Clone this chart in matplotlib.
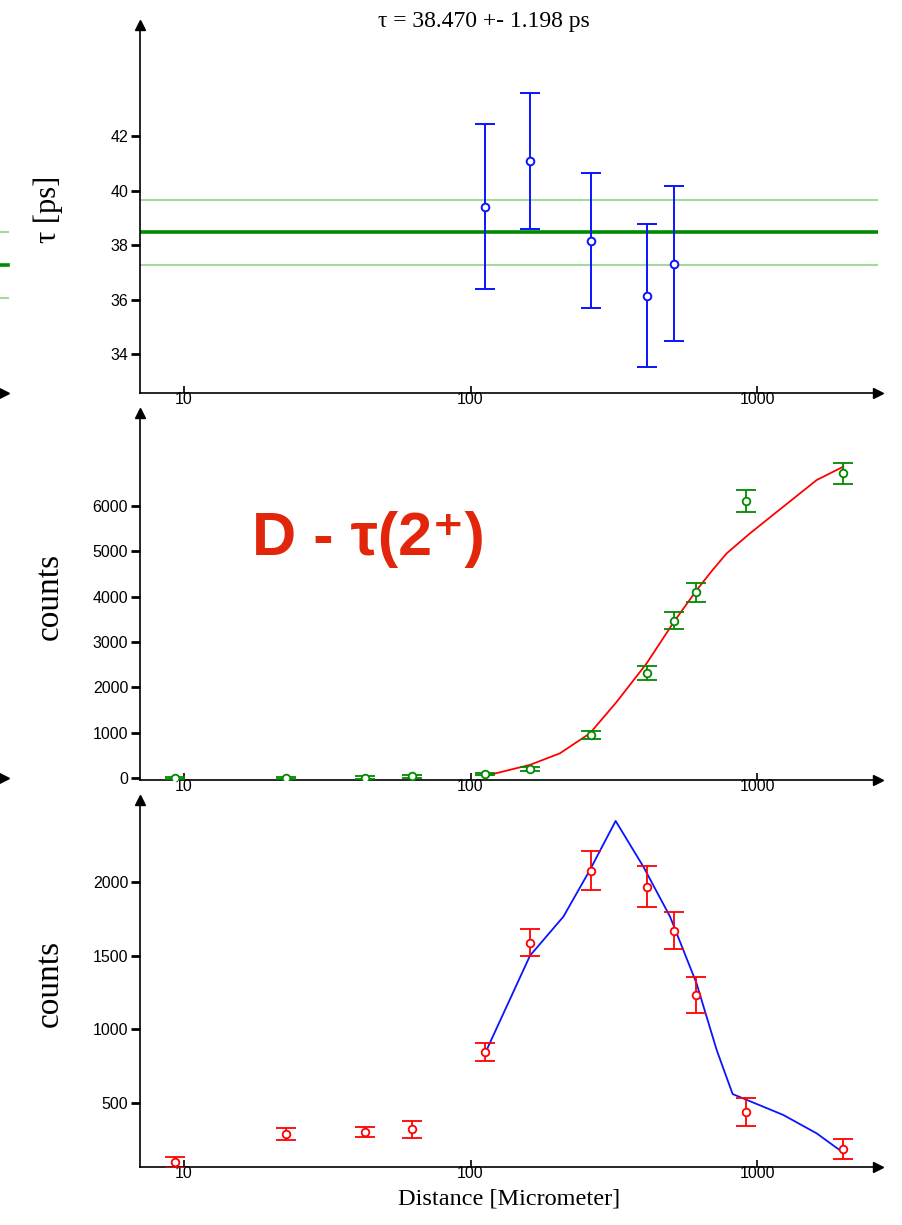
import matplotlib
matplotlib.use("Agg")
import matplotlib.pyplot as plt
from matplotlib.lines import Line2D

# distances (micrometer) of the measured points
distance = [9.3, 22.7, 42.9, 62.5, 112.4, 161.3, 263.4, 413, 513, 612, 915, 1995]

# lifetime per distance (top panel)
tau_dist = [112.4, 161.3, 263.4, 413, 513]
tau_val = [39.42, 41.08, 38.17, 36.14, 37.32]
tau_err = [3.02, 2.50, 2.49, 2.62, 2.86]
tau_mean = 38.470
tau_sigma = 1.198

# shifted component counts (middle panel)
shifted = [5, 5, 10, 40, 90, 200, 950, 2323, 3470, 4096, 6117, 6722]
shifted_err = [20, 20, 25, 30, 30, 40, 80, 155, 190, 205, 240, 230]
shifted_fit_x = [112.4, 161.3, 205, 261, 324, 412, 513, 616, 700, 784, 945, 1235, 1616, 2000]
shifted_fit_y = [45, 290, 544, 985, 1683, 2530, 3448, 4147, 4590, 4957, 5397, 5985, 6574, 6868]

# unshifted component counts (bottom panel)
unshifted = [99, 290, 305, 321, 848, 1588, 2077, 1968, 1670, 1235, 441, 188]
unshifted_err = [38, 40, 34, 56, 62, 90, 132, 140, 126, 121, 94, 66]
unshifted_fit_x = [112.4, 161.3, 211, 261, 321, 401, 497, 615, 723, 822, 1235, 1616, 2000]
unshifted_fit_y = [837, 1500, 1765, 2081, 2414, 2104, 1765, 1312, 860, 561, 419, 294, 163]

XLIM = (7.02, 2644)
sans = ["Liberation Sans", "DejaVu Sans"]
serif = ["Liberation Serif", "DejaVu Serif"]


def style_axis(ax, ylim, yticks):
    ax.set_xscale("log")
    ax.set_xlim(*XLIM)
    ax.set_ylim(*ylim)
    ax.set_yticks(yticks)
    ax.set_xticks([10, 100, 1000])
    ax.set_xticklabels(["10", "100", "1000"])
    ax.xaxis.set_minor_locator(matplotlib.ticker.NullLocator())
    for s in ["top", "right"]:
        ax.spines[s].set_visible(False)
    for s in ["left", "bottom"]:
        ax.spines[s].set_linewidth(1.2)
    ax.tick_params(axis="y", direction="out", length=6.5, width=2, pad=2,
                   labelsize=11.5)
    ax.tick_params(axis="x", direction="in", length=5, width=1.2, pad=-1,
                   labelsize=11.5)
    for lab in ax.get_xticklabels() + ax.get_yticklabels():
        lab.set_family(sans)
    ax.plot([0], [1], marker="^", color="black", markersize=7,
            transform=ax.transAxes, clip_on=False)
    ax.plot([1], [0], marker=">", color="black", markersize=7,
            transform=ax.transAxes, clip_on=False)


fig = plt.figure(figsize=(9.02, 12.25), dpi=100)
W, H = 902, 1225
left = 140 / W
width = (878 - 140) / W

ax1 = fig.add_axes([left, 1 - 393 / H, width, (393 - 25) / H])
ax2 = fig.add_axes([left, 1 - 780 / H, width, (780 - 413) / H])
ax3 = fig.add_axes([left, 1 - 1167 / H, width, (1167 - 800) / H])

# top: lifetime
ax1.axhline(tau_mean + tau_sigma, color="#a8d8a0", lw=1.5)
ax1.axhline(tau_mean - tau_sigma, color="#a8d8a0", lw=1.5)
ax1.axhline(tau_mean, color="#008a00", lw=2.6)
ax1.errorbar(tau_dist, tau_val, yerr=tau_err, fmt="o", color="#0a14ff",
             mfc="white", mec="#0a14ff", ms=5.5, mew=1.4, elinewidth=1.4,
             capsize=7, capthick=1.4, zorder=3)
style_axis(ax1, (32.56, 46.1), [34, 36, 38, 40, 42])
ax1.set_ylabel("τ [ps]", family=serif, fontsize=22, labelpad=34)

# middle: shifted
ax2.plot(shifted_fit_x, shifted_fit_y, color="#ff0000", lw=1.3, zorder=2)
ax2.errorbar(distance, shifted, yerr=shifted_err, fmt="o", color="#008a00",
             mfc="white", mec="#008a00", ms=5.5, mew=1.3, elinewidth=1.3,
             capsize=7, capthick=1.3, zorder=3)
style_axis(ax2, (-44, 8052), [0, 1000, 2000, 3000, 4000, 5000, 6000])
ax2.set_ylabel("counts", family=serif, fontsize=24, labelpad=20)
ax2.text(252 / W, 1 - 540 / H, "D - τ(2⁺)", transform=fig.transFigure,
         family=sans, fontweight="bold", fontsize=44, color="#e2260c",
         ha="left", va="center")

# bottom: unshifted
ax3.plot(unshifted_fit_x, unshifted_fit_y, color="#0a14ff", lw=1.3, zorder=2)
ax3.errorbar(distance, unshifted, yerr=unshifted_err, fmt="o", color="#ff0000",
             mfc="white", mec="#ff0000", ms=5.5, mew=1.3, elinewidth=1.3,
             capsize=7, capthick=1.3, zorder=3)
style_axis(ax3, (66, 2556), [500, 1000, 1500, 2000])
ax3.set_ylabel("counts", family=serif, fontsize=24, labelpad=20)
ax3.set_xlabel("Distance [Micrometer]", family=serif, fontsize=17.5, labelpad=6)

fig.text(484 / W, 1 - 22 / H, "τ = 38.470 +- 1.198 ps", family=serif,
         fontsize=17, ha="center", va="center")

# pieces of the neighbouring panel cut at the left edge
for yy, col, lw in [(232, "#a8d8a0", 1.5), (265, "#008a00", 2.6), (298, "#a8d8a0", 1.5)]:
    fig.add_artist(Line2D([0, 8 / W], [1 - yy / H] * 2, color=col, lw=lw,
                          transform=fig.transFigure))
for yy in [393, 778]:
    fig.add_artist(Line2D([4 / W], [1 - yy / H], marker=">", color="black",
                          markersize=7, transform=fig.transFigure))

fig.savefig("out.png", dpi=100)
